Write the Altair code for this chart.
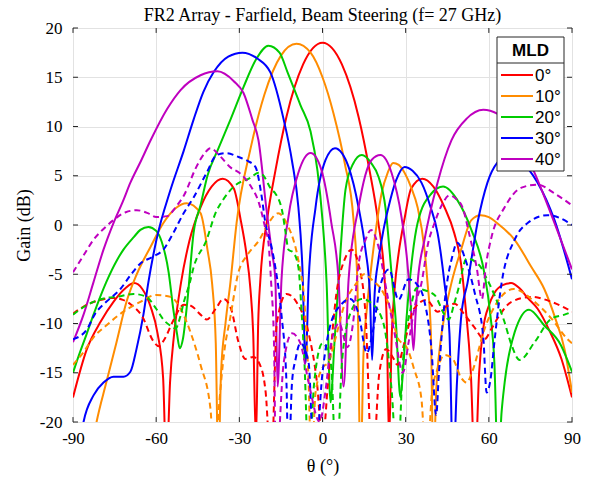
import altair as alt
import pandas as pd

labels = ["0°", "10°", "20°", "30°", "40°"]
colors = ["#ff0000", "#ff8c00", "#00cc00", "#0000ff", "#bf00bf"]
x_ticks = [-90, -60, -30, 0, 30, 60, 90]
y_ticks = [-20, -15, -10, -5, 0, 5, 10, 15, 20]

# ---- solid curves ----
th_r = [-90, -85, -80, -75.4, -71, -68, -65, -62, -59.5, -57.5, -56.3, -55, -53.5, -51, -48, -44, -40, -36, -32, -29.5,
        -27.5, -26, -25, -24, -23.2, -22.4, -20, -17, -13, -7, 0, 7, 13, 17, 20, 22.4, 23.2, 24, 25, 26, 27.5, 29.5,
        32, 36, 40, 44, 47.5, 50, 51.5, 53.5, 55, 56.5, 58, 60, 62, 65, 68, 71, 74, 77.6, 82, 86.2, 90]
g_r = [-17.5, -12.6, -9.8, -7.8, -6.4, -5.9, -6.5, -8.3, -11, -15.5, -25, -16, -11, -5.8, -1.6, 1.8, 3.9, 4.7, 3.7, 0.5,
       -2.8, -6.5, -11, -22, -10, -5.5, 0.5, 5.5, 11, 16.3, 18.5, 16.3, 11, 5.5, 0.5, -5.5, -10, -22, -11, -6.5, -2.8, 0.5,
       3.7, 4.7, 3.9, 1.8, -0.8, -4, -8, -15, -25, -15, -10.5, -8.2, -6.9, -6.1, -5.9, -6.4, -7.4, -8.5, -10.8, -13.6, -17.5]

th_o = [-90, -84, -81.5, -78, -74.3, -70.7, -67, -62, -57.4, -53, -49, -44, -41.5, -39.8, -38.5, -37.6, -36.6, -35, -33.2,
        -31, -26, -21, -15, -9.4, -4.3, 0, 4, 8, 11.2, 12.6, 13.7, 14.8, 16, 17.7, 19.5, 21.3, 23.5, 25.5, 27.5, 29.6, 32,
        34.3, 36.8, 37.9, 39.1, 40, 41, 42.5, 44.5, 46.5, 50, 53.7, 57, 60, 63, 69.3, 75.4, 80, 84, 87.3, 90]
g_o = [-30, -24, -20, -16, -11.9, -7.8, -5, -2.2, 0.2, 1.7, 2.2, 1.2, -2.5, -6, -12, -25, -15, -10, -5.8,
       0.2, 7.7, 13.2, 17.2, 18.4, 17.5, 15, 11.3, 6.3, 0.5, -6, -25, -13, -8.5, -4, 0, 3.2, 5.3, 6.3, 6.1, 5.3, 3.8,
       1.8, -2.5, -5.9, -11, -25, -17, -12, -8.5, -5.9, -2.5, 0.5, 1.0, 0.8, 0.2, -1.5, -4.3, -6.5, -9.5, -12.6, -17]

th_g = [-90, -88.7, -85, -82.6, -78, -74, -71.8, -68, -65.7, -62.8, -60, -58, -55.5, -53.8, -52.5, -51.5, -50.3, -48.7,
        -46.5, -44, -41.5, -37.5, -33.2, -28.5, -24, -19.5, -15.5, -12.6, -8, -4.3, -1.8, 0, 1.5, 2.9, 4.3, 5.8, 8.3, 11,
        14.2, 17.5, 20.2, 22.7, 24.9, 26.5, 28.1, 29.2, 30.3, 31.4, 34.3, 39.3, 43.5, 48.7, 53.7, 58.4, 60.5, 62, 63.3,
        64.6, 65.7, 69.3, 74.5, 80, 86, 90]
g_g = [-15, -13.9, -11, -9.1, -5.8, -3.5, -2.5, -1.2, -0.5, -0.2, -0.6, -1.7, -4.8, -8.6, -11, -12.5, -11.5, -7.6,
       -0.8, 2, 5, 7.8, 10.7, 14, 16.8, 18.2, 17.5, 15.5, 12.2, 9.5, 5.5, 0.5, -6, -18, -12, -5.6, 3.6, 6.2,
       7.1, 6.3, 4.9, 1.8, -4.9, -10, -17.5, -14.2, -9.5, -5.9, 0.2, 3.2, 3.9, 2.5, -0.5, -4.9, -9, -14, -25,
       -19, -16, -10.9, -8.6, -10.2, -12.2, -14.9]

th_b = [-90, -86.2, -82.6, -79, -75.4, -71.8, -69.3, -67.1, -64.6, -62.8, -59.9, -54.8, -50.1, -46.5, -43, -39.3, -34,
        -28.9, -23.5, -18.8, -14, -11, -8.7, -7.3, -6.1, -5, -2.5, 1.1, 4.5, 7, 9.4, 13, 15.5, 17.1, 17.9, 18.8, 20.2,
        22, 23.8, 26.5, 29.6, 32.5, 35.7, 39, 41.5, 44, 45.8, 47.1, 48.5, 50.1, 52.3, 55.9, 59.5, 63, 67, 71, 74.5, 77.6,
        83.7, 90]
g_b = [-28, -20, -17.3, -16, -15.4, -15.4, -14.9, -12.6, -9.1, -5.8, -1.5, 3.6, 7.5, 10.7, 13.5, 15.5, 17.1,
       17.5, 16.9, 15.5, 10.7, 6.5, 1.8, -4, -14, -5.6, 1.8, 6.6, 7.8, 7.3, 5.9, 1.8, -2.5, -7, -13.7, -7, -3.5,
       -0.5, 1.8, 4.5, 5.9, 5.5, 4.3, 1.8, -0.8, -5.9, -11, -25, -16, -9.1, -5.9, 0.2, 4.3, 6.3, 7.0, 6.6, 5.6, 4.3,
       0.5, -5.5]

th_m = [-90, -86.2, -82.6, -79, -75.4, -72, -69.3, -65.5, -62, -56, -51.2, -44, -37.9, -32, -28.5, -25.3, -23.1, -20.3,
        -18.4, -17, -16.2, -14.8, -12.3, -8.7, -4.3, -0.4, 3.2, 5.8, 7.6, 9.4, 13, 17.7, 20.9, 24.9, 28.5, 30.5, 31.8,
        32.8, 33.6, 34.3, 36.8, 41.5, 46.5, 52, 58, 63, 69, 76.5, 83.7, 90]
g_m = [-11.9, -9.1, -5.8, -2.5, 0.2, 2.4, 4.3, 6.5, 8.6, 11.8, 13.7, 15.2, 15.6, 14.6, 13.4, 10.7, 8.6, 1.8,
       -2.5, -5.6, -16.4, -5.6, 0.8, 5.3, 7.3, 5.6, 0.2, -5.6, -16.4, -5.6, 1.8, 6.6, 7.1, 5.3, 0.8, -3.5, -8,
       -12.7, -9, -5.9, -1.5, 4.3, 8.6, 10.8, 11.7, 11.3, 9.6, 5.3, 0.2, -4.5]

# ---- dashed curves ----
th_rd = [-90, -85, -80, -76, -72, -69, -65, -61, -59, -57, -54, -50, -47.5, -44, -41.8, -38.5, -35.7, -33, -30.3, -27.8,
         -25, -22, -20.5, -18.5, -16.5, -13, -9, -5, -2, 0, 2, 5, 8, 10.5, 13, 15.5, 18, 20.5, 23, 25.5, 27, 29.6, 33,
         37.5, 41.5, 44.5, 47.6, 51, 54.8, 58.4, 61, 63.1, 68.2, 75.4, 82.6, 90]
g_rd = [-9, -8.1, -7.6, -7.4, -7.6, -8.1, -9.3, -11.8, -12.3, -11.6, -9.8, -8.1, -8.2, -9.1, -9.6, -8.5, -7.5, -8.5, -11.9,
        -13.6, -13.4, -14.6, -17, -25, -10, -7, -8, -11, -16, -22, -16, -7, -3.5, -2.5, -4, -9, -25, -15, -12.6, -13.5,
        -14.2, -11.9, -8.5, -7.6, -8.8, -8.3, -8.0, -9, -10.4, -11.6, -10.5, -9.5, -7.8, -7.3, -7.8, -8.8]

th_od = [-90, -86.2, -82.6, -78, -71.8, -65.7, -60, -54.8, -51.2, -47.6, -44, -40.4, -39, -37.5, -35.5, -33.2, -30.5, -27,
         -23, -19, -16, -12.3, -10.5, -8.7, -6.5, -5, -4, -2.5, 0, 2.2, 4.6, 8, 12, 15, 18, 22, 25, 27, 30.7, 33, 35.7,
         37.5, 39.5, 41.5, 44, 47, 50, 52, 54, 58.4, 63.1, 69, 76.5, 82.6, 88.4, 90]
g_od = [-14.2, -12.9, -11.4, -10.2, -8.8, -7.8, -7.1, -7.3, -8.5, -10.9, -14.2, -18.7, -25, -19, -13, -9.3, -5, -3,
        -1.6, 0.4, 1.2, -0.2, -1.5, -3.6, -8, -16, -25, -17, -14.5, -13.9, -11.6, -8, -6, -5, -5.6, -6.9, -9, -11.4,
        -12.6, -14.6, -17.7, -25, -17, -14.6, -13.2, -13.6, -15.5, -16, -14.9, -10.6, -7.8, -6.5, -7.8, -9.5, -11.6, -12]

th_gd = [-90, -86, -82.6, -78, -74.3, -68.2, -63.5, -60, -57.4, -55, -53, -51.5, -50, -48, -46.5, -41.8, -38.6, -36, -32,
         -26, -23, -21.6, -18.4, -17, -14.4, -13.3, -12.3, -10.5, -8.7, -7.5, -6.5, -5, -3, 0, 3, 5, 7, 10, 14, 18, 22,
         25, 27, 29, 31.7, 34, 36.5, 40.4, 44, 45.5, 47.5, 49, 52, 56.6, 59, 62, 65.6, 68.2, 71.1, 76.5, 82.6, 87.3, 90]
g_gd = [-9.1, -8.3, -7.8, -7.4, -7.3, -7.0, -7.3, -8.5, -9.6, -10.2, -10.5, -9.5, -7.8, -6, -4.3, -1.5, 1.2, 2.5, 3.9,
        4.8, 5.3, 5.1, 3.6, 3.2, 1.2, -0.8, -2.5, -2.8, -4.3, -9, -14, -25, -16, -12, -14, -25, -14, -9, -7.5, -8, -10,
        -17, -25, -14, -8.6, -6.4, -6.6, -7.1, -9.1, -9.6, -8, -6.5, -3.4, -4.1, -5.3, -7.1, -9.8, -12.2, -13.7, -11.9,
        -9.5, -9.1, -8.8]

th_bd = [-90, -85, -82, -78, -72.9, -69, -65.7, -61, -57.4, -53.8, -50.1, -46.5, -41.8, -38.2, -34.6, -30.3, -27, -24.2,
         -22, -20.6, -18.4, -17, -14.8, -13, -12.3, -11, -9.7, -8, -5, -3, 0, 3, 7, 10, 13, 16, 18, 21, 24, 27.4, 31, 34,
         36.8, 39.3, 41, 42, 44, 47, 48.5, 52, 55, 58, 59.2, 60.6, 62, 64.6, 69.3, 74, 81.2, 88.4, 90]
g_bd = [-11.6, -10.6, -9, -7.8, -6.5, -5, -3.9, -3.2, -2.5, -0.8, 1.2, 2.8, 5.3, 7.1, 7.3, 6.9, 6.5, 5.9, 3, 0.2, -2.2,
        -4.3, -9.1, -16, -25, -16, -13.6, -12, -14, -25, -15, -10, -8, -7.5, -9, -13, -11, -6, -4.5, -7.6, -5.5, -6,
        -7.8, -12.6, -19.3, -15, -8, -3, -1.8, -3.9, -7, -11.4, -17, -15.7, -11.9, -5.9, -1.5, 0.2, 1.0, 0.3, 0]

th_md = [-90, -86, -82.6, -79, -75.4, -71, -67, -63, -60, -56, -53, -50, -45.5, -42.5, -40.4, -37, -33, -30, -26, -23,
         -20.5, -19.5, -18.5, -17.5, -16.8, -14, -11, -8, -5, -1, 1, 3.2, 6, 9, 11, 13, 15.5, 17.5, 20, 23, 26, 29, 31,
         33.5, 35.7, 38, 40.4, 43, 45.8, 48, 50.5, 53, 55.6, 57.5, 59, 61, 65.7, 71.8, 77.6, 83.7, 89, 90]
g_md = [-4.8, -3, -1.5, -0.4, 0.5, 1.3, 1.5, 1.2, 0.8, 0.9, 1.8, 3, 5.9, 7.3, 7.8, 7, 5.8, 5.3, 4, 2.3, -0.5, -1.8, -6,
        -12, -25, -14, -11, -12, -16, -20, -17, -11.9, -10, -12.4, -10, -4, -1.5, -0.5, -2, -6.5, -11, -15, -12, -8,
        -5.9, -2, 0.2, 2, 3, 2.7, 1.8, -1, -4.3, -7.5, -4, -1.2, 1.8, 3.8, 4.1, 3.2, 2.2, 2]

curves = [
    ("0°", "solid", th_r, g_r), ("10°", "solid", th_o, g_o), ("20°", "solid", th_g, g_g),
    ("30°", "solid", th_b, g_b), ("40°", "solid", th_m, g_m),
    ("0°", "dashed", th_rd, g_rd), ("10°", "dashed", th_od, g_od), ("20°", "dashed", th_gd, g_gd),
    ("30°", "dashed", th_bd, g_bd), ("40°", "dashed", th_md, g_md),
]
rows = []
for lab, sty, th, g in curves:
    n = min(len(th), len(g))
    for i in range(n):
        rows.append({"theta": th[i], "gain": g[i], "MLD": lab, "style": sty, "idx": i})
df = pd.DataFrame(rows)

SERIF = "Liberation Serif"
SANS = "Liberation Sans"
FRAME = "#262626"

x_enc = alt.X("theta:Q", scale=alt.Scale(domain=[-90, 90], nice=False, zero=False),
              axis=alt.Axis(values=x_ticks, title="θ (°)", grid=True, gridColor="#e2e2e2", domain=False, ticks=False,
                            labelFont=SERIF, labelFontSize=17, labelColor="#000", labelPadding=8,
                            labelExpr="'' + datum.value", labelFlush=False,
                            titleFont=SERIF, titleFontSize=18, titleFontWeight="normal", titleColor="#000",
                            titlePadding=11))
y_enc = alt.Y("gain:Q", scale=alt.Scale(domain=[-20, 20], nice=False, zero=False),
              axis=alt.Axis(values=y_ticks, title="Gain (dB)", grid=True, gridColor="#e2e2e2", domain=False, ticks=False,
                            labelFont=SERIF, labelFontSize=17, labelColor="#000", labelPadding=11,
                            labelExpr="'' + datum.value", labelFlush=False,
                            titleFont=SERIF, titleFontSize=18, titleFontWeight="normal", titleColor="#000",
                            titlePadding=6))
col = alt.Color("MLD:N", scale=alt.Scale(domain=labels, range=colors), legend=None)

solid = alt.Chart(df).transform_filter("datum.style == 'solid'").mark_line(
    strokeWidth=2, interpolate="monotone", clip=True).encode(x=x_enc, y=y_enc, color=col, order="idx:Q")
dashed = alt.Chart(df).transform_filter("datum.style == 'dashed'").mark_line(
    strokeWidth=2, interpolate="monotone", clip=True, strokeDash=[6, 4]).encode(
    x="theta:Q", y="gain:Q", color=col, order="idx:Q")

xt = pd.DataFrame({"theta": x_ticks})
yt = pd.DataFrame({"gain": y_ticks})
tick_layers = [
    alt.Chart(xt).mark_rule(color=FRAME, strokeWidth=1).encode(x="theta:Q", y=alt.datum(-20), y2=alt.datum(-19.5)),
    alt.Chart(xt).mark_rule(color=FRAME, strokeWidth=1).encode(x="theta:Q", y=alt.datum(20), y2=alt.datum(19.5)),
    alt.Chart(yt).mark_rule(color=FRAME, strokeWidth=1).encode(y="gain:Q", x=alt.datum(-90), x2=alt.datum(-88.2)),
    alt.Chart(yt).mark_rule(color=FRAME, strokeWidth=1).encode(y="gain:Q", x=alt.datum(90), x2=alt.datum(88.2)),
]

one = pd.DataFrame({"k": [0]})
legend_layers = [
    alt.Chart(one).mark_rect(fill="white", stroke=FRAME, strokeWidth=1).encode(
        x=alt.value(424), x2=alt.value(491), y=alt.value(9), y2=alt.value(143)),
    alt.Chart(one).mark_rule(color=FRAME, strokeWidth=1).encode(
        x=alt.value(424), x2=alt.value(491), y=alt.value(35)),
    alt.Chart(one).mark_text(text="MLD", font=SANS, fontSize=17, fontWeight="bold", color="#000",
                             align="center", baseline="middle").encode(x=alt.value(457.5), y=alt.value(23)),
]
for i, (lab, c) in enumerate(zip(labels, colors)):
    yy = 47 + 21 * i
    legend_layers.append(alt.Chart(one).mark_rule(color=c, strokeWidth=2).encode(
        x=alt.value(428), x2=alt.value(460), y=alt.value(yy)))
    legend_layers.append(alt.Chart(one).mark_text(text=lab, font=SANS, fontSize=17, color="#000",
                                                  align="left", baseline="middle").encode(
        x=alt.value(462), y=alt.value(yy + 1)))

chart = alt.layer(solid, dashed, *tick_layers, *legend_layers).properties(
    width=499, height=394,
    title=alt.TitleParams("FR2 Array - Farfield, Beam Steering (f= 27 GHz)", font=SERIF, fontSize=18,
                          fontWeight="normal", color="#000", offset=5, anchor="middle", dy=11),
    autosize=alt.AutoSizeParams(type="none"),
    padding={"left": 73, "top": 28, "right": 18, "bottom": 55},
).configure_view(stroke=FRAME, strokeWidth=1)

chart.save("out.html", embed_options={"renderer": "svg", "actions": False})
